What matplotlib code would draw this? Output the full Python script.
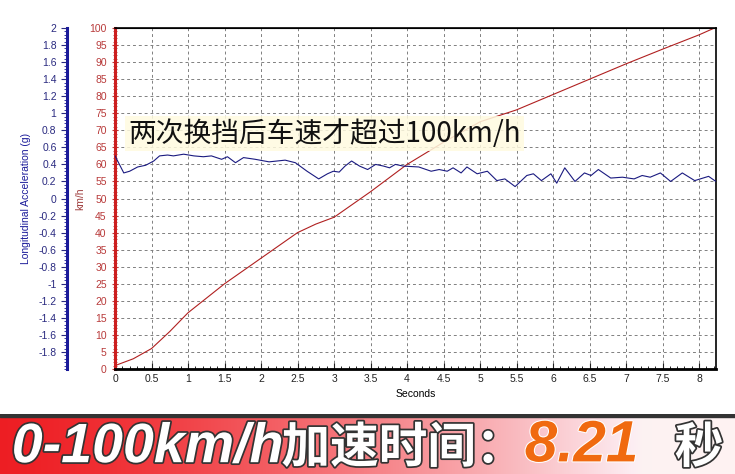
import numpy as np
import matplotlib.pyplot as plt
import matplotlib.patheffects as pe
from matplotlib.ticker import MultipleLocator

plt.rcParams['font.family'] = ['Liberation Sans', 'Noto Sans CJK SC', 'DejaVu Sans']

# speed trace (km/h)
t_speed = [0, 0.25, 0.5, 0.75, 1, 1.5, 2, 2.5, 2.75, 3, 3.5, 4, 4.5, 5, 5.5, 6, 6.5, 7, 7.5, 8, 8.21]
speed = [1, 3, 6, 11, 16.5, 25, 32.5, 40, 42.5, 44.5, 52, 60, 66.5, 72.5, 76, 80.5, 85, 89.5, 93.8, 98, 100]

# longitudinal acceleration trace (g)
t_acc = [0, 0.12, 0.2, 0.31, 0.42, 0.53, 0.61, 0.72, 0.8, 0.94, 1.08, 1.21, 1.32, 1.46, 1.54,
         1.65, 1.76, 1.92, 2.11, 2.33, 2.47, 2.63, 2.79, 2.91, 2.99, 3.07, 3.15, 3.24, 3.35,
         3.46, 3.57, 3.68, 3.76, 3.84, 3.95, 4.16, 4.33, 4.44, 4.55, 4.63, 4.74, 4.82, 4.96,
         5.1, 5.23, 5.34, 5.48, 5.64, 5.73, 5.84, 5.97, 6.05, 6.16, 6.3, 6.43, 6.52, 6.62,
         6.79, 6.95, 7.11, 7.22, 7.33, 7.47, 7.61, 7.77, 7.94, 8.13, 8.23]
acc = [0.50, 0.30, 0.32, 0.37, 0.39, 0.44, 0.50, 0.51, 0.50, 0.52, 0.50, 0.49, 0.50, 0.46, 0.49,
       0.42, 0.48, 0.46, 0.43, 0.45, 0.42, 0.32, 0.23, 0.29, 0.32, 0.31, 0.38, 0.44, 0.38,
       0.34, 0.40, 0.38, 0.36, 0.40, 0.38, 0.37, 0.32, 0.34, 0.32, 0.36, 0.30, 0.37, 0.29,
       0.32, 0.21, 0.23, 0.14, 0.27, 0.29, 0.21, 0.29, 0.18, 0.36, 0.20, 0.30, 0.27, 0.34,
       0.24, 0.25, 0.23, 0.27, 0.25, 0.30, 0.20, 0.30, 0.21, 0.26, 0.20]

acc_ticks = [round(-1.8 + 0.2 * i, 1) for i in range(20)]

fig = plt.figure(figsize=(7.35, 4.74), dpi=100)
ax = fig.add_axes([0.1565, 0.2215, 0.8175, 0.7194])

ax.plot(t_speed, speed, color='#b02020', lw=0.8)
ax.set_xlim(0, 8.23)
ax.set_ylim(0, 100)
ax.xaxis.set_major_locator(MultipleLocator(0.5))
ax.xaxis.set_minor_locator(MultipleLocator(0.1))
ax.yaxis.set_major_locator(MultipleLocator(5))
ax.yaxis.set_minor_locator(MultipleLocator(1))
ax.xaxis.set_major_formatter(plt.FuncFormatter(lambda v, p: f'{v:g}'))
ax.grid(True, color='#808080', ls=(0, (3, 3)), lw=0.7)
ax.tick_params(axis='y', colors='#b83a3a', labelsize=7.5, direction='inout', length=5)
ax.tick_params(axis='y', which='minor', colors='#b83a3a', direction='inout', length=3)
ax.tick_params(axis='x', labelsize=7.5, colors='#222222', direction='in', length=4)
ax.tick_params(axis='x', which='minor', direction='in', length=2)
ax.spines['left'].set_color('#cc2020')
ax.spines['left'].set_linewidth(2.2)
ax.spines['bottom'].set_linewidth(2.0)
ax.spines['top'].set_linewidth(1.2)
ax.spines['right'].set_linewidth(1.2)
ax.set_xlabel('Seconds', fontsize=7.5, labelpad=4)
ax.set_ylabel('km/h', fontsize=7.5, color='#a04040')
ax.yaxis.set_label_coords(-0.05, 0.5)

ax2 = ax.twinx()
ax2.plot(t_acc, acc, color='#1a1a80', lw=0.8)
ax2.set_ylim(-2, 2)
ax2.set_yticks(acc_ticks)
ax2.set_yticklabels(['0' if v == 0 else f'{v:g}' for v in acc_ticks])
ax2.yaxis.set_minor_locator(MultipleLocator(0.04))
ax2.yaxis.set_ticks_position('left')
ax2.yaxis.set_label_position('left')
ax2.spines['left'].set_position(('axes', -0.08))
ax2.spines['left'].set_color('#1a1a99')
ax2.spines['left'].set_linewidth(2.2)
ax2.spines['right'].set_visible(False)
ax2.tick_params(axis='y', colors='#2a2a80', labelsize=7.5, direction='out', length=4)
ax2.tick_params(axis='y', which='minor', colors='#1a1a99', direction='out', length=2)
ax2.set_ylabel('Longitudinal Acceleration (g)', fontsize=7.5, color='#1a1a99')
ax2.yaxis.set_label_coords(-0.14, 0.5)

ax.text(0.18, 69.0, '两次换挡后车速才超过100km/h', fontsize=20, va='center', ha='left',
        family=['Noto Sans CJK SC', 'DejaVu Sans'], color='#111111', zorder=5,
        bbox=dict(boxstyle='square,pad=0.1', fc='#fffbe0', ec='none', alpha=0.85))

# bottom banner
bx = fig.add_axes([0, 0, 1, 60 / 474])
grad = np.linspace(0, 1, 400)
r = np.clip(0.93 + 0.07 * grad, 0, 1)
g = np.clip(0.12 + 1.0 * grad ** 1.4, 0, 0.95)
b = np.clip(0.14 + 1.0 * grad ** 1.4, 0, 0.95)
img = np.stack([r, g, b], axis=-1)[None, :, :]
bx.imshow(img, aspect='auto', extent=(0, 1, 0, 1))
bx.axhspan(0.955, 1.0, color='#333333')
bx.set_xlim(0, 1)
bx.set_ylim(0, 1)
bx.axis('off')

fx = [pe.Stroke(linewidth=2.5, foreground='#333333'), pe.Normal()]
bx.text(0.016, 0.43, '0-100km/h', fontsize=40, color='white', weight='bold',
        style='italic', va='center', ha='left', path_effects=fx)
bx.text(0.383, 0.43, '加速时间：', fontsize=35, color='white', weight='bold',
        va='center', ha='left', family=['Noto Sans CJK SC'], path_effects=fx)
bx.text(0.714, 0.46, '8.21', fontsize=42, color='#f06a10', weight='bold', style='italic',
        va='center', ha='left',
        path_effects=[pe.Stroke(linewidth=1.5, foreground='white'), pe.Normal()])
bx.text(0.918, 0.43, '秒', fontsize=35, color='white', weight='bold', va='center', ha='left',
        family=['Noto Sans CJK SC'], path_effects=fx)

fig.savefig('out.png', dpi=100)
